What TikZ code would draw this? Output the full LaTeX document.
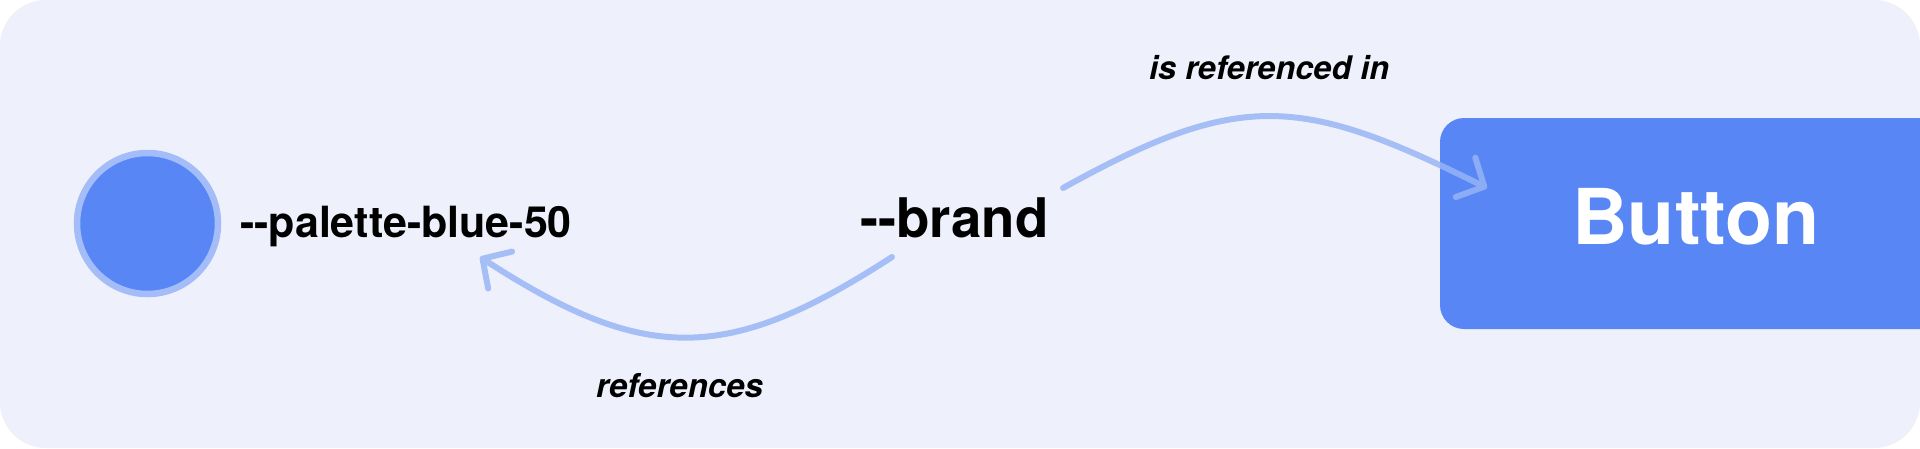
\documentclass[tikz,border=0pt]{standalone}
\usepackage{fontspec}
\setmainfont{TeX Gyre Heros}
\usetikzlibrary{arrows.meta}
\definecolor{bgcol}{HTML}{EEF1FB}
\definecolor{bluefill}{HTML}{5887F5}
\definecolor{blueedge}{HTML}{A4BDF8}
\definecolor{arrowcol}{HTML}{97B4F6}
\tikzset{
  txt/.style={inner sep=0pt, anchor=base west, text=black},
  conn/.style={draw=arrowcol, line width=6pt, line cap=round,
    -{Straight Barb[length=21pt,width=44pt,round]}},
  swatch/.style={circle, fill=bluefill, draw=blueedge, line width=6.5pt,
    minimum size=141pt, inner sep=0pt},
  buttonbox/.style={rectangle, fill=bluefill, rounded corners=24pt,
    minimum width=512pt, minimum height=211pt, inner sep=0pt}
}
\begin{document}
\begin{tikzpicture}[x=1pt,y=-1pt]
\useasboundingbox (0,0) rectangle (1920,448);
\fill[white] (0,0) rectangle (1920,448);
\fill[bgcol, rounded corners=46pt] (0,0) rectangle (1920,448);

\node[swatch] (swatch) at (147.5,223.5) {};
\node[txt, font=\bfseries\fontsize{43}{50}\selectfont] (palette) at (240,237) {-{}-palette-blue-50};
\node[txt, font=\bfseries\fontsize{54.6}{60}\selectfont] (brand) at (860,237) {-{}-brand};
\node[buttonbox] (button) at (1696,223.5) {};
\node[inner sep=0pt, anchor=base, text=white, font=\bfseries\fontsize{77}{80}\selectfont] (buttonlabel) at (1696,244) {Button};

\node[txt, font=\bfseries\itshape\fontsize{32.5}{38}\selectfont] (lblin) at (1149,79) {is referenced in};
\node[txt, font=\bfseries\itshape\fontsize{33}{38}\selectfont] (lblref) at (596,397) {references};

\coordinate (s1) at (1063,188);
\coordinate (e1) at (1487,188);
\coordinate (s2) at (892,257);
\coordinate (e2) at (480,257);

\begin{scope}[transparency group, opacity=0.83]
\draw[conn] (s1) .. controls (1240,90) and (1300,95) .. (e1);
\end{scope}
\begin{scope}[transparency group, opacity=0.83]
\draw[conn] (s2) .. controls (727,364) and (645,364) .. (e2);
\end{scope}
\end{tikzpicture}
\end{document}
